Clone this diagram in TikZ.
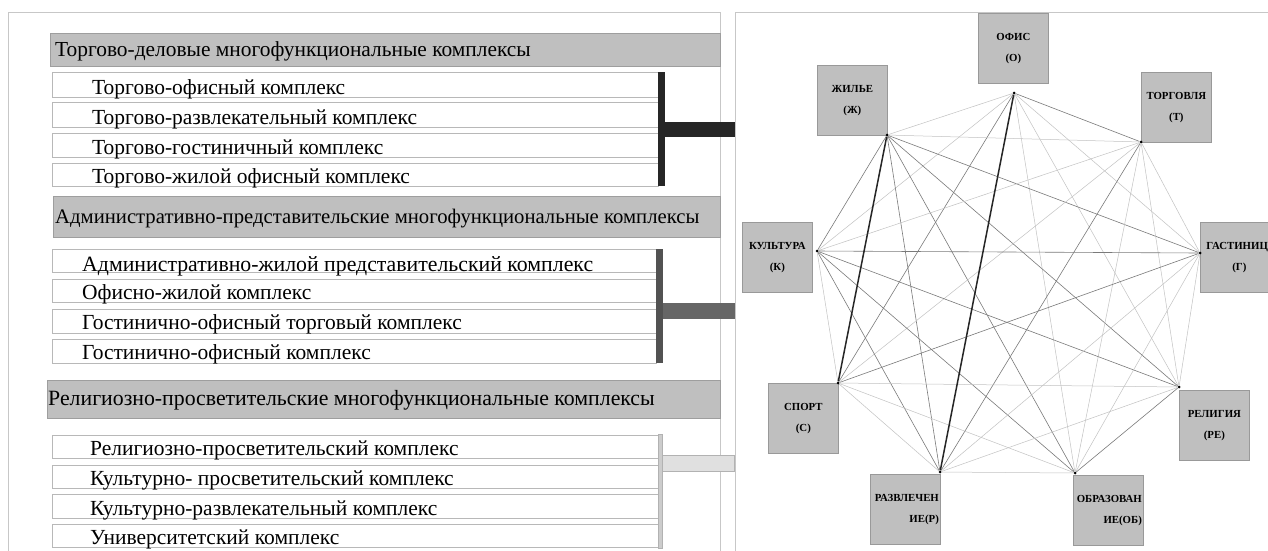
\documentclass[tikz,border=0pt]{standalone}
\usepackage{fontspec}
\setmainfont{Liberation Serif}
\begin{document}
\begin{tikzpicture}[x=1pt,y=-1pt,
  panel/.style={draw=black!22, line width=1pt},
  hdrbox/.style={draw=black!38, fill=black!25, line width=0.8pt, anchor=north west, inner sep=0pt},
  itembox/.style={draw=black!28, fill=white, line width=1.2pt, anchor=north west, inner sep=0pt},
  hdrtext/.style={anchor=base west, inner sep=0pt, font=\fontsize{21.4}{21.4}\selectfont},
  itemtext/.style={anchor=base west, inner sep=0pt, font=\fontsize{21.5}{21.5}\selectfont},
  bar/.style={anchor=north west, inner sep=0pt, draw=none},
  vbox/.style={draw=black!40, fill=black!25, line width=0.7pt, minimum width=70pt, minimum height=70pt, inner sep=0pt, anchor=north west,
     font=\fontsize{10.8}{21}\bfseries\selectfont, align=center},
  vboxr/.style={vbox, align=right, text width=67pt},
  dot/.style={circle, fill=black, inner sep=0pt, minimum size=3pt},
  thk/.style={draw=black!85, line width=1.5pt},
  med/.style={draw=black!52, line width=0.6pt},
  lgt/.style={draw=black!24, line width=0.5pt}
]
\useasboundingbox (0,0) rectangle (1268,550);
\clip (0,0) rectangle (1268,550);
\fill[white] (0,0) rectangle (1268,550);

% panels
\coordinate (pl1) at (8,560);
\coordinate (pl2) at (8,12);
\coordinate (pl3) at (720,12);
\coordinate (pl4) at (720,560);
\draw[panel] (pl1) -- (pl2) -- (pl3) -- (pl4);
\coordinate (pr1) at (735,560);
\coordinate (pr2) at (735,12);
\coordinate (pr3) at (1270,12);
\draw[panel] (pr1) -- (pr2) -- (pr3);

% ---------- Section 1
\node[hdrbox, minimum width=670pt, minimum height=33pt] (h1) at (50,33) {};
\node[hdrtext] (h1t) at (55,56) {Торгово-деловые многофункциональные комплексы};
\node[itembox, minimum width=606pt, minimum height=25pt] (a1) at (52,72) {};
\node[itembox, minimum width=606pt, minimum height=25pt] (a2) at (52,102) {};
\node[itembox, minimum width=606pt, minimum height=24pt] (a3) at (52,133) {};
\node[itembox, minimum width=606pt, minimum height=23pt] (a4) at (52,163) {};
\node[itemtext] (a1t) at (92,94) {Торгово-офисный комплекс};
\node[itemtext] (a2t) at (92,124) {Торгово-развлекательный комплекс};
\node[itemtext] (a3t) at (92,154) {Торгово-гостиничный комплекс};
\node[itemtext] (a4t) at (92,183) {Торгово-жилой офисный комплекс};
\node[bar, fill=black!85, minimum width=7pt, minimum height=114pt] (av) at (658,72) {};
\node[bar, fill=black!85, minimum width=70pt, minimum height=15pt] (ah) at (665,122) {};

% ---------- Section 2
\node[hdrbox, minimum width=667pt, minimum height=41pt] (h2) at (53,196) {};
\node[hdrtext, font=\fontsize{20.7}{20.7}\selectfont] (h2t) at (55,223) {Административно-представительские многофункциональные комплексы};
\node[itembox, minimum width=604pt, minimum height=23pt] (b1) at (52,249) {};
\node[itembox, minimum width=604pt, minimum height=23pt] (b2) at (52,279) {};
\node[itembox, minimum width=604pt, minimum height=24pt] (b3) at (52,309) {};
\node[itembox, minimum width=604pt, minimum height=24pt] (b4) at (52,339) {};
\node[itemtext, font=\fontsize{21.8}{21.8}\selectfont] (b1t) at (82,271) {Административно-жилой представительский комплекс};
\node[itemtext] (b2t) at (82,299) {Офисно-жилой комплекс};
\node[itemtext] (b3t) at (82,329) {Гостинично-офисный торговый комплекс};
\node[itemtext] (b4t) at (82,359) {Гостинично-офисный комплекс};
\node[bar, fill=black!68, minimum width=7pt, minimum height=114pt] (bv) at (656,249) {};
\node[bar, fill=black!60, minimum width=72pt, minimum height=16pt] (bh) at (663,303) {};

% ---------- Section 3
\node[hdrbox, minimum width=673pt, minimum height=38pt] (h3) at (47,380) {};
\node[hdrtext, font=\fontsize{21.8}{21.8}\selectfont] (h3t) at (48,405) {Религиозно-просветительские многофункциональные комплексы};
\node[itembox, minimum width=606pt, minimum height=23pt] (c1) at (52,435) {};
\node[itembox, minimum width=606pt, minimum height=23pt] (c2) at (52,465) {};
\node[itembox, minimum width=606pt, minimum height=24pt] (c3) at (52,494) {};
\node[itembox, minimum width=606pt, minimum height=23pt] (c4) at (52,524) {};
\node[itemtext] (c1t) at (90,455) {Религиозно-просветительский комплекс};
\node[itemtext] (c2t) at (90,485) {Культурно- просветительский комплекс};
\node[itemtext] (c3t) at (90,515) {Культурно-развлекательный комплекс};
\node[itemtext] (c4t) at (90,544) {Университетский комплекс};
\node[bar, fill=black!20, draw=black!30, line width=0.5pt, minimum width=4pt, minimum height=114pt] (cv) at (658,434) {};
\node[bar, fill=black!12, draw=black!30, line width=0.5pt, minimum width=72pt, minimum height=16pt] (ch) at (662,455) {};

% ---------- Graph boxes
\node[vbox] (bO) at (978,13) {ОФИС\\(О)};
\node[vbox] (bZ) at (817,65) {ЖИЛЬЕ\\(Ж)};
\node[vbox] (bT) at (1141,72) {ТОРГОВЛЯ\\(Т)};
\node[vbox] (bK) at (742,222) {КУЛЬТУРА\\(К)};
\node[vbox, align=left, text width=66pt] (bG) at (1200,222) {\hspace*{4pt}ГАСТИНИЦА\\\hspace*{30pt}(Г)};
\node[vbox] (bS) at (768,383) {СПОРТ\\(С)};
\node[vbox] (bRE) at (1179,390) {РЕЛИГИЯ\\(РЕ)};
\node[vboxr] (bR) at (870,474) {РАЗВЛЕЧЕН\\ИЕ(Р)};
\node[vboxr] (bOB) at (1073,475) {ОБРАЗОВАН\\ИЕ(ОБ)};

% ---------- dots
\node[dot] (O) at (1014,93) {};
\node[dot] (Z) at (887,135) {};
\node[dot] (T) at (1141,142) {};
\node[dot] (K) at (817,251) {};
\node[dot] (G) at (1200,253) {};
\node[dot] (S) at (838,383) {};
\node[dot] (RE) at (1179,387) {};
\node[dot] (R) at (940,472) {};
\node[dot] (OB) at (1075,473) {};

% ---------- edges
\draw[lgt] (O) -- (Z);
\draw[med] (O) -- (T);
\draw[lgt] (O) -- (K);
\draw[lgt] (O) -- (G);
\draw[med] (O) -- (S);
\draw[lgt] (O) -- (RE);
\draw[lgt] (O) -- (OB);
\draw[lgt] (Z) -- (T);
\draw[med] (Z) -- (G);
\draw[med] (Z) -- (K);
\draw[med] (Z) -- (R);
\draw[med] (Z) -- (OB);
\draw[med] (Z) -- (RE);
\draw[lgt] (T) -- (K);
\draw[lgt] (T) -- (G);
\draw[lgt] (T) -- (S);
\draw[med] (T) -- (R);
\draw[lgt] (T) -- (OB);
\draw[lgt] (T) -- (RE);
\draw[med] (K) -- (G);
\draw[lgt] (K) -- (S);
\draw[med] (K) -- (R);
\draw[med] (K) -- (OB);
\draw[med] (K) -- (RE);
\draw[med] (G) -- (S);
\draw[lgt] (G) -- (R);
\draw[lgt] (G) -- (OB);
\draw[lgt] (G) -- (RE);
\draw[lgt] (S) -- (RE);
\draw[lgt] (S) -- (R);
\draw[lgt] (S) -- (OB);
\draw[lgt] (R) -- (OB);
\draw[lgt] (R) -- (RE);
\draw[med] (OB) -- (RE);
\draw[thk] (Z) -- (S);
\draw[thk] (O) -- (R);
\end{tikzpicture}
\end{document}
